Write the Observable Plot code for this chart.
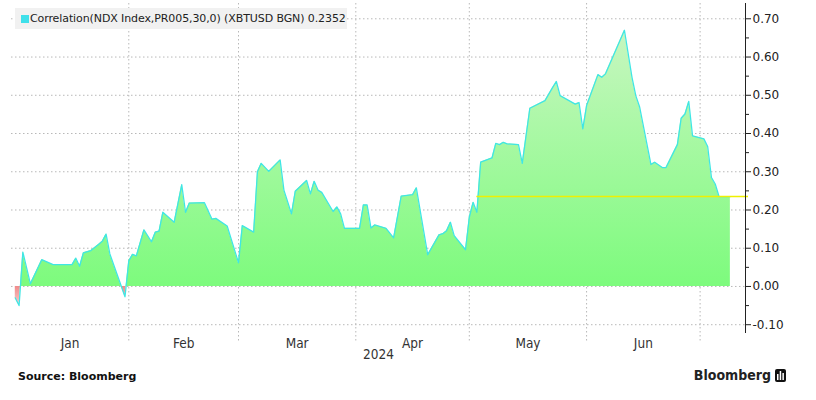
<!DOCTYPE html>
<html><head><meta charset="utf-8">
<script src="https://cdn.jsdelivr.net/npm/d3@7"></script>
<script src="https://cdn.jsdelivr.net/npm/@observablehq/plot@0.6"></script>
<style>
body{margin:0;background:#fff;font-family:"DejaVu Sans",sans-serif;}
#wrap{position:relative;width:816px;height:400px;overflow:hidden;background:#fff}
#legend{position:absolute;left:15px;top:8px;height:21px;width:332px;background:#f1f1f1;font-size:11px;letter-spacing:-0.1px;color:#222;white-space:nowrap;display:flex;align-items:center}
#legend .sw{display:inline-block;width:8px;height:8px;background:#3fe0ea;margin-left:6px;margin-right:1px}
#footer{position:absolute;top:366px;left:0;width:816px;height:34px}
#src{position:absolute;left:18px;top:4px;font-weight:bold;font-size:11px;color:#111}
#logo{position:absolute;right:30px;top:1px;font-family:"DejaVu Sans Condensed","DejaVu Sans",sans-serif;font-stretch:condensed;font-weight:bold;font-size:14px;color:#222;display:flex;align-items:center}
#logo svg{margin-left:4px}
</style>
</head><body>
<div id="wrap">
  <div id="chart"></div>
  <div id="legend"><span class="sw"></span><span id="legtext"></span></div>
  <div id="footer"><span id="src">Source: Bloomberg</span><span id="logo">Bloomberg<svg width="11" height="13" viewBox="0 0 11 13"><rect x="0" y="0" width="11" height="13" rx="2" fill="#111"/><rect x="2" y="5" width="1.5" height="6" fill="#fff"/><rect x="4.7" y="2" width="1.5" height="9" fill="#fff"/><rect x="7.4" y="4" width="1.5" height="7" fill="#fff"/></svg></span></div>
</div>
<script>
const seriesName = "Correlation(NDX Index,PR005,30,0) (XBTUSD BGN)";
const lastValue = 0.2352;
const lastLineStart = "2024-05-03";
const xStart = "2024-01-01";
const xEnd = "2024-07-13";
const yTicks = [-0.1, 0, 0.1, 0.2, 0.3, 0.4, 0.5, 0.6, 0.7];
const yMinorTicks = [-0.05, 0.05, 0.15, 0.25, 0.35, 0.45, 0.55, 0.65];
const monthLabels = ["Jan", "Feb", "Mar", "Apr", "May", "Jun"];
const yearLabel = "2024";

const dates = [
 "2024-01-02","2024-01-03","2024-01-04","2024-01-06","2024-01-09","2024-01-12","2024-01-17","2024-01-18","2024-01-19","2024-01-20",
 "2024-01-22","2024-01-24","2024-01-25","2024-01-26","2024-01-27","2024-01-31","2024-02-01","2024-02-02","2024-02-03","2024-02-05",
 "2024-02-07","2024-02-08","2024-02-09","2024-02-10","2024-02-13","2024-02-15","2024-02-16","2024-02-17","2024-02-21","2024-02-23",
 "2024-02-24","2024-02-27","2024-03-01","2024-03-02","2024-03-05","2024-03-06","2024-03-07","2024-03-09","2024-03-12","2024-03-13",
 "2024-03-15","2024-03-16","2024-03-19","2024-03-20","2024-03-21","2024-03-22","2024-03-23","2024-03-26","2024-03-27","2024-03-28",
 "2024-03-29","2024-04-02","2024-04-03","2024-04-04","2024-04-05","2024-04-06","2024-04-09","2024-04-11","2024-04-13","2024-04-16",
 "2024-04-17","2024-04-20","2024-04-23","2024-04-24","2024-04-25","2024-04-26","2024-04-27","2024-04-30","2024-05-01","2024-05-02",
 "2024-05-03","2024-05-04","2024-05-07","2024-05-08","2024-05-09","2024-05-10","2024-05-11","2024-05-14","2024-05-15","2024-05-17",
 "2024-05-21","2024-05-23","2024-05-24","2024-05-25","2024-05-29","2024-05-30","2024-05-31","2024-06-01","2024-06-04","2024-06-05",
 "2024-06-06","2024-06-11","2024-06-13","2024-06-14","2024-06-15","2024-06-18","2024-06-19","2024-06-21","2024-06-22","2024-06-25",
 "2024-06-26","2024-06-27","2024-06-28","2024-06-29","2024-07-02","2024-07-03","2024-07-04","2024-07-05","2024-07-06","2024-07-09"
];
const values = [
 -0.03,-0.05,0.09,0.007,0.07,0.057,0.057,0.074,0.053,0.088,
 0.094,0.11,0.118,0.137,0.085,-0.027,0.067,0.084,0.08,0.148,
 0.117,0.142,0.145,0.194,0.168,0.266,0.194,0.218,0.219,0.176,
 0.178,0.158,0.062,0.159,0.142,0.30,0.322,0.301,0.331,0.252,
 0.19,0.249,0.277,0.242,0.275,0.252,0.246,0.196,0.208,0.19,
 0.152,0.152,0.213,0.213,0.153,0.161,0.152,0.127,0.236,0.24,
 0.258,0.083,0.135,0.138,0.146,0.168,0.133,0.096,0.181,0.22,
 0.194,0.325,0.336,0.374,0.371,0.377,0.373,0.371,0.322,0.466,
 0.486,0.52,0.536,0.499,0.477,0.481,0.412,0.473,0.554,0.547,
 0.556,0.670,0.547,0.499,0.47,0.319,0.325,0.311,0.311,0.371,
 0.44,0.451,0.484,0.394,0.386,0.366,0.285,0.268,0.2352,0.2352
];

document.getElementById("legtext").textContent = seriesName + " " + lastValue.toFixed(4);

const parse = d3.utcParse("%Y-%m-%d");
const data = dates.map((d, i) => ({date: parse(d), value: values[i]}));
const x0 = parse(xStart), x1 = parse(xEnd);
const monthStarts = d3.utcMonth.range(x0, d3.utcMonth.offset(x0, monthLabels.length + 1));
const gridMonths = monthStarts.slice(1);
const labelDates = monthLabels.map((m, i) => new Date((+monthStarts[i] + +monthStarts[i + 1]) / 2));
const lastLine = [{v: lastValue, a: parse(lastLineStart), b: x1}];
const axisLine = [{d: x1}];

const grid = {stroke: "#b8b8b8", strokeOpacity: 1, strokeDasharray: "1.5,2.5", strokeWidth: 1};

const chart = Plot.plot({
  width: 816, height: 366,
  marginLeft: 11, marginRight: 71, marginTop: 3, marginBottom: 33,
  x: {type: "utc", domain: [x0, x1]},
  y: {domain: [-0.123, 0.74]},
  style: {fontFamily: "DejaVu Sans", background: "#fff", color: "#222"},
  marks: [
    Plot.gridY(yTicks, grid),
    Plot.ruleX(gridMonths, {...grid, insetBottom: -9}),
    Plot.areaY(data, {x: "date", y1: 0, y2: "value", fill: "url(#corrFill)"}),
    Plot.line(data, {x: "date", y: "value", stroke: "#40e6e4", strokeWidth: 1.3}),
    Plot.ruleY(lastLine, {y: "v", x1: "a", x2: "b", stroke: "#f0f000", strokeWidth: 1.5, insetRight: -3}),
    Plot.ruleX(axisLine, {x: "d", stroke: "#222", strokeWidth: 1}),
    Plot.axisY(yTicks, {anchor: "right", tickSize: 5, tickPadding: 2, tickFormat: d => d.toFixed(2), fontSize: 12, fill: "#222", stroke: "#222", label: null}),
    Plot.axisY(yMinorTicks, {anchor: "right", tickSize: 3, tickFormat: () => "", stroke: "#222", label: null}),
    Plot.axisX(labelDates, {anchor: "bottom", tickSize: 0, tickPadding: 5, tickFormat: (d, i) => monthLabels[i], fontSize: 13.5, fontFamily: "DejaVu Sans Condensed", fill: "#333", label: null}),
    Plot.text([yearLabel], {text: d => d, frameAnchor: "bottom", dy: 25, fontSize: 13.5, fontFamily: "DejaVu Sans Condensed", fill: "#333"})
  ]
});

const ys = chart.scale("y");
const yTop = ys.apply(0.70), yBot = ys.apply(-0.07), yZero = ys.apply(0);
const z = (yZero - yTop) / (yBot - yTop);
const defs = d3.select(chart).insert("defs", ":first-child");
const g = defs.append("linearGradient").attr("id", "corrFill").attr("gradientUnits", "userSpaceOnUse")
  .attr("x1", 0).attr("x2", 0).attr("y1", yTop).attr("y2", yBot);
g.append("stop").attr("offset", 0).attr("stop-color", "#cbf6c3");
g.append("stop").attr("offset", z).attr("stop-color", "#7dfb7d");
g.append("stop").attr("offset", z).attr("stop-color", "#f08a8a");
g.append("stop").attr("offset", 1).attr("stop-color", "#fdeaea");

document.getElementById("chart").append(chart);
</script>
</body></html>
